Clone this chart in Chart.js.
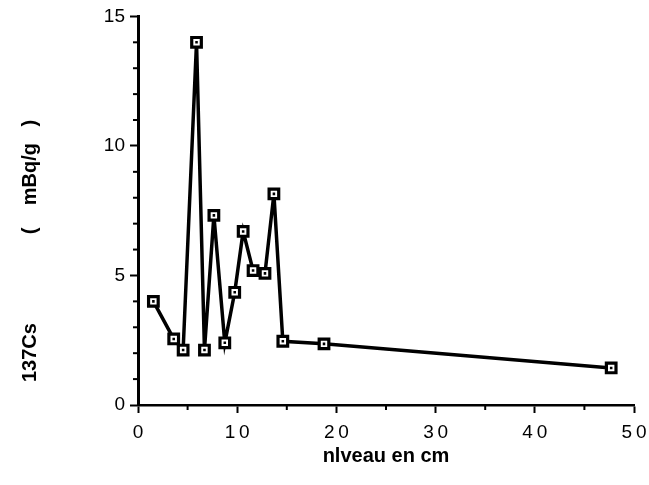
<!DOCTYPE html>
<html>
<head>
<meta charset="utf-8">
<script src="https://cdn.jsdelivr.net/npm/chart.js@4/dist/chart.umd.min.js"></script>
<style>
  html, body { margin: 0; padding: 0; background: #fff; }
  #wrap { width: 649px; height: 485px; }
</style>
</head>
<body>
<div id="wrap"><canvas id="csChart" width="649" height="485"></canvas></div>
<script>
// depth (cm) vs 137Cs activity (mBq/g)
const niveau = [1.55, 3.6, 4.55, 5.9, 6.7, 7.65, 8.75, 9.75, 10.6, 11.6, 12.8, 13.7, 14.6, 18.75, 47.7];
const cs137 = [4.0, 2.55, 2.12, 14.0, 2.12, 7.32, 2.4, 4.35, 6.7, 5.19, 5.08, 8.15, 2.46, 2.36, 1.43];
const xTicks = [0, 10, 20, 30, 40, 50];
const yTicks = [0, 5, 10, 15];
const yTitle = '137Cs' + ' '.repeat(16) + '(' + ' '.repeat(4) + 'mBq/g' + ' '.repeat(3) + ')';

const points = niveau.map((x, i) => ({ x: x, y: cs137[i] }));

// short minor ticks + the y title, placed with the chart's own scales
const extras = {
  id: 'extras',
  afterDraw(chart) {
    const ctx = chart.ctx;
    const xs = chart.scales.x, ys = chart.scales.y;
    ctx.save();
    ctx.strokeStyle = '#000';
    ctx.lineWidth = 2;
    for (let v = 5; v < 50; v += 10) {
      const px = xs.getPixelForValue(v);
      ctx.beginPath();
      ctx.moveTo(px, ys.bottom);
      ctx.lineTo(px, ys.bottom + 5);
      ctx.stroke();
    }
    for (let v = 1; v < 15; v++) {
      if (v % 5 === 0) continue;
      const py = ys.getPixelForValue(v);
      ctx.beginPath();
      ctx.moveTo(xs.left, py);
      ctx.lineTo(xs.left - 5, py);
      ctx.stroke();
    }
    // y axis title, starting a little above the bottom of the axis
    ctx.translate(30, ys.bottom - 23);
    ctx.rotate(-Math.PI / 2);
    ctx.fillStyle = '#000';
    ctx.font = 'bold 20px "Liberation Sans"';
    ctx.textAlign = 'left';
    ctx.textBaseline = 'middle';
    ctx.fillText(yTitle, 0, 0);
    ctx.restore();
  }
};

new Chart(document.getElementById('csChart').getContext('2d'), {
  type: 'scatter',
  data: {
    datasets: [{
      data: points,
      order: 1,
      showLine: true,
      borderColor: '#000',
      borderWidth: 3.5,
      pointStyle: 'rect',
      pointRadius: 6.8,
      pointBorderWidth: 3.2,
      pointBorderColor: '#000',
      pointBackgroundColor: '#fff'
    }, {
      // dot inside each square marker
      data: points,
      order: 0,
      showLine: false,
      pointStyle: 'rect',
      pointRadius: 1.8,
      pointBorderWidth: 0,
      pointBorderColor: '#000',
      pointBackgroundColor: '#000'
    }]
  },
  options: {
    responsive: false,
    animation: false,
    layout: { padding: { top: 16, right: 15, left: 0, bottom: 0 } },
    plugins: {
      legend: { display: false },
      tooltip: { enabled: false }
    },
    scales: {
      x: {
        type: 'linear',
        min: 0,
        max: 50,
        afterBuildTicks: s => { s.ticks = xTicks.map(v => ({ value: v })); },
        afterFit: s => { s.height = 80; s.paddingRight = 0; s.paddingLeft = 0; },
        border: { color: '#000', width: 2.5 },
        grid: { drawOnChartArea: false, tickLength: 8, tickWidth: 2, tickColor: '#000' },
        ticks: {
          color: '#000',
          padding: 8,
          font: { family: 'Liberation Sans', size: 19 },
          callback: v => String(v).split('').join('\u2009')
        },
        title: {
          display: true,
          text: 'nlveau en cm',
          color: '#000',
          padding: { top: 0, bottom: 17 },
          font: { family: 'Liberation Sans', size: 20, weight: 'bold' }
        }
      },
      y: {
        min: 0,
        max: 15,
        afterBuildTicks: s => { s.ticks = yTicks.map(v => ({ value: v })); },
        afterFit: s => { s.width = 138; },
        border: { color: '#000', width: 3 },
        grid: { drawOnChartArea: false, tickLength: 8, tickWidth: 2, tickColor: '#000' },
        ticks: {
          color: '#000',
          padding: 5,
          font: { family: 'Liberation Sans', size: 19 }
        }
      }
    }
  },
  plugins: [extras]
});
</script>
</body>
</html>
